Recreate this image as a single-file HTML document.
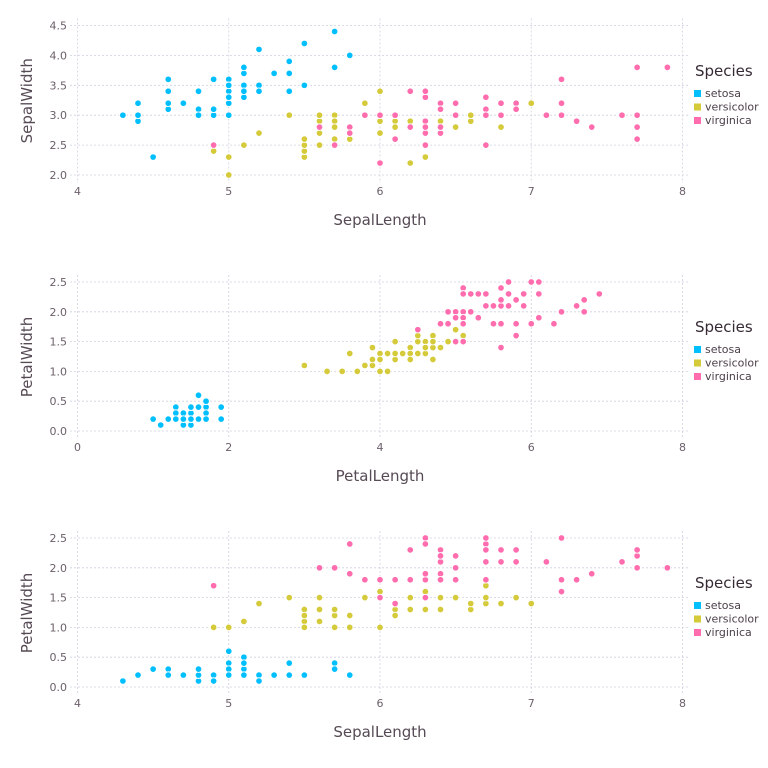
<!DOCTYPE html>
<html><head><meta charset="utf-8">
<style>
html,body{margin:0;padding:0;background:#fff;}
svg{display:block;font-family:"DejaVu Sans","Liberation Sans",sans-serif;}
</style></head>
<body>
<svg id="chart" width="768" height="768" viewBox="0 0 768 768" xmlns="http://www.w3.org/2000/svg"></svg>
<script>
const species = ["setosa","versicolor","virginica"];
const colors = ["#00BFFF","#D4CA3A","#FF6DAE"];
const sepalLength = [
5.1,4.9,4.7,4.6,5.0,5.4,4.6,5.0,4.4,4.9,5.4,4.8,4.8,4.3,5.8,5.7,5.4,5.1,5.7,5.1,5.4,5.1,4.6,5.1,4.8,5.0,5.0,5.2,5.2,4.7,4.8,5.4,5.2,5.5,4.9,5.0,5.5,4.9,4.4,5.1,5.0,4.5,4.4,5.0,5.1,4.8,5.1,4.6,5.3,5.0,
7.0,6.4,6.9,5.5,6.5,5.7,6.3,4.9,6.6,5.2,5.0,5.9,6.0,6.1,5.6,6.7,5.6,5.8,6.2,5.6,5.9,6.1,6.3,6.1,6.4,6.6,6.8,6.7,6.0,5.7,5.5,5.5,5.8,6.0,5.4,6.0,6.7,6.3,5.6,5.5,5.5,6.1,5.8,5.0,5.6,5.7,5.7,6.2,5.1,5.7,
6.3,5.8,7.1,6.3,6.5,7.6,4.9,7.3,6.7,7.2,6.5,6.4,6.8,5.7,5.8,6.4,6.5,7.7,7.7,6.0,6.9,5.6,7.7,6.3,6.7,7.2,6.2,6.1,6.4,7.2,7.4,7.9,6.4,6.3,6.1,7.7,6.3,6.4,6.0,6.9,6.7,6.9,5.8,6.8,6.7,6.7,6.3,6.5,6.2,5.9];
const sepalWidth = [
3.5,3.0,3.2,3.1,3.6,3.9,3.4,3.4,2.9,3.1,3.7,3.4,3.0,3.0,4.0,4.4,3.9,3.5,3.8,3.8,3.4,3.7,3.6,3.3,3.4,3.0,3.4,3.5,3.4,3.2,3.1,3.4,4.1,4.2,3.1,3.2,3.5,3.6,3.0,3.4,3.5,2.3,3.2,3.5,3.8,3.0,3.8,3.2,3.7,3.3,
3.2,3.2,3.1,2.3,2.8,2.8,3.3,2.4,2.9,2.7,2.0,3.0,2.2,2.9,2.9,3.1,3.0,2.7,2.2,2.5,3.2,2.8,2.5,2.8,2.9,3.0,2.8,3.0,2.9,2.6,2.4,2.4,2.7,2.7,3.0,3.4,3.1,2.3,3.0,2.5,2.6,3.0,2.6,2.3,2.7,3.0,2.9,2.9,2.5,2.8,
3.3,2.7,3.0,2.9,3.0,3.0,2.5,2.9,2.5,3.6,3.2,2.7,3.0,2.5,2.8,3.2,3.0,3.8,2.6,2.2,3.2,2.8,2.8,2.7,3.3,3.2,2.8,3.0,2.8,3.0,2.8,3.8,2.8,2.8,2.6,3.0,3.4,3.1,3.0,3.1,3.1,3.1,2.7,3.2,3.3,3.0,2.5,3.0,3.4,3.0];
const petalLength = [
1.4,1.4,1.3,1.5,1.4,1.7,1.4,1.5,1.4,1.5,1.5,1.6,1.4,1.1,1.2,1.5,1.3,1.4,1.7,1.5,1.7,1.5,1.0,1.7,1.9,1.6,1.6,1.5,1.4,1.6,1.6,1.5,1.5,1.4,1.5,1.2,1.3,1.4,1.3,1.5,1.3,1.3,1.3,1.6,1.9,1.4,1.6,1.4,1.5,1.4,
4.7,4.5,4.9,4.0,4.6,4.5,4.7,3.3,4.6,3.9,3.5,4.2,4.0,4.7,3.6,4.4,4.5,4.1,4.5,3.9,4.8,4.0,4.9,4.7,4.3,4.4,4.8,5.0,4.5,3.5,3.8,3.7,3.9,5.1,4.5,4.5,4.7,4.4,4.1,4.0,4.4,4.6,4.0,3.3,4.2,4.2,4.2,4.3,3.0,4.1,
6.0,5.1,5.9,5.6,5.8,6.6,4.5,6.3,5.8,6.1,5.1,5.3,5.5,5.0,5.1,5.3,5.5,6.7,6.9,5.0,5.7,4.9,6.7,4.9,5.7,6.0,4.8,4.9,5.6,5.8,6.1,6.4,5.6,5.1,5.6,6.1,5.6,5.5,4.8,5.4,5.6,5.1,5.1,5.9,5.7,5.2,5.0,5.2,5.4,5.1];
const petalWidth = [
0.2,0.2,0.2,0.2,0.2,0.4,0.3,0.2,0.2,0.1,0.2,0.2,0.1,0.1,0.2,0.4,0.4,0.3,0.3,0.3,0.2,0.4,0.2,0.5,0.2,0.2,0.4,0.2,0.2,0.2,0.2,0.4,0.1,0.2,0.2,0.2,0.2,0.1,0.2,0.2,0.3,0.3,0.2,0.6,0.4,0.3,0.2,0.2,0.2,0.2,
1.4,1.5,1.5,1.3,1.5,1.3,1.6,1.0,1.3,1.4,1.0,1.5,1.0,1.4,1.3,1.4,1.5,1.0,1.5,1.1,1.8,1.3,1.5,1.2,1.3,1.4,1.4,1.7,1.5,1.0,1.1,1.0,1.2,1.6,1.5,1.6,1.5,1.3,1.3,1.3,1.2,1.4,1.2,1.0,1.3,1.2,1.3,1.3,1.1,1.3,
2.5,1.9,2.1,1.8,2.2,2.1,1.7,1.8,1.8,2.5,2.0,1.9,2.1,2.0,2.4,2.3,1.8,2.2,2.3,1.5,2.3,2.0,2.0,1.8,2.1,1.8,1.8,1.8,2.1,1.6,1.9,2.0,2.2,1.5,1.4,2.3,2.4,1.8,1.8,2.1,2.4,2.3,1.9,2.3,2.5,2.3,1.9,2.0,2.3,1.8];
const xTicks1 = [4,5,6,7,8];
const xTicks2 = [0,2,4,6,8];
const yTicks1 = [2.0,2.5,3.0,3.5,4.0,4.5];
const yTicks2 = [0.0,0.5,1.0,1.5,2.0,2.5];

const NS="http://www.w3.org/2000/svg";
const svg=document.getElementById('chart');
function mk(tag,attrs,parent){const e=document.createElementNS(NS,tag);for(const k in attrs)e.setAttribute(k,attrs[k]);(parent||svg).appendChild(e);return e;}

function panel(cfg){
  const g=mk('g',{});
  
  
  const X0=77.5,X1=682.5;
  const sx=v=>X0+(v-cfg.xmin)/(cfg.xmax-cfg.xmin)*(X1-X0);
  const sy=v=>cfg.yBot+(v-cfg.ymin)/(cfg.ymax-cfg.ymin)*(cfg.yTop-cfg.yBot);
  const top=cfg.yTop-7, bot=cfg.yBot+8;
  cfg.yticks.forEach(t=>{
    const l=mk('line',{x1:70,x2:689,y1:sy(t),y2:sy(t),stroke:'#D0D0E0','stroke-width':0.8,'stroke-dasharray':'2,2'},g);
    
    
    const tx=mk('text',{x:67,y:sy(t)+4,'text-anchor':'end','font-size':11,fill:'#6C606B'},g);
    tx.textContent=t.toFixed(1);
    
    
  });
  cfg.xticks.forEach(t=>{
    const l=mk('line',{x1:sx(t),x2:sx(t),y1:top,y2:bot,stroke:'#D0D0E0','stroke-width':0.8,'stroke-dasharray':'2,2'},g);
    
    
    const tx=mk('text',{x:sx(t),y:bot+12,'text-anchor':'middle','font-size':11,fill:'#6C606B'},g);
    tx.textContent=String(t);
    
    
  });
  const xl=mk('text',{x:380,y:bot+42,'text-anchor':'middle','font-size':15,fill:'#564A55'},g);
  xl.textContent=cfg.xlabel;
  
  
  const cy=(top+bot)/2;
  const yl=mk('text',{x:32,y:cy,'text-anchor':'middle','font-size':15,fill:'#564A55',transform:`rotate(-90 32 ${cy})`},g);
  yl.textContent=cfg.ylabel;
  
  
  for(let i=0;i<cfg.xs.length;i++){
    const c=mk('circle',{cx:sx(cfg.xs[i]),cy:sy(cfg.ys[i]),r:3.3,fill:colors[Math.floor(i/50)],stroke:'#fff','stroke-width':0.9},g);
    
    
  }
  const lg=mk('g',{},g);
  
  
  const lt=mk('text',{x:695,y:cfg.legY,'font-size':15,fill:'#362A35'},lg);
  lt.textContent='Species';
  
  
  species.forEach((s,k)=>{
    const y=cfg.legY+21+k*13.5;
    const r=mk('rect',{x:694,y:y-7,width:7,height:7,fill:colors[k]},lg);
    
    
    const t=mk('text',{x:705,y:y,'font-size':11,fill:'#4C404B'},lg);
    t.textContent=s;
    
    
  });
}
panel({name:'panel-sepal-length-vs-width',xs:sepalLength,ys:sepalWidth,xmin:4,xmax:8,ymin:2.0,ymax:4.5,yBot:175,yTop:25.5,xticks:xTicks1,yticks:yTicks1,xlabel:'SepalLength',ylabel:'SepalWidth',legY:76});
panel({name:'panel-petal-length-vs-width',xs:petalLength,ys:petalWidth,xmin:0,xmax:8,ymin:0,ymax:2.5,yBot:431,yTop:282,xticks:xTicks2,yticks:yTicks2,xlabel:'PetalLength',ylabel:'PetalWidth',legY:332});
panel({name:'panel-sepal-length-vs-petal-width',xs:sepalLength,ys:petalWidth,xmin:4,xmax:8,ymin:0,ymax:2.5,yBot:687,yTop:538,xticks:xTicks1,yticks:yTicks2,xlabel:'SepalLength',ylabel:'PetalWidth',legY:588});
</script>
</body></html>
